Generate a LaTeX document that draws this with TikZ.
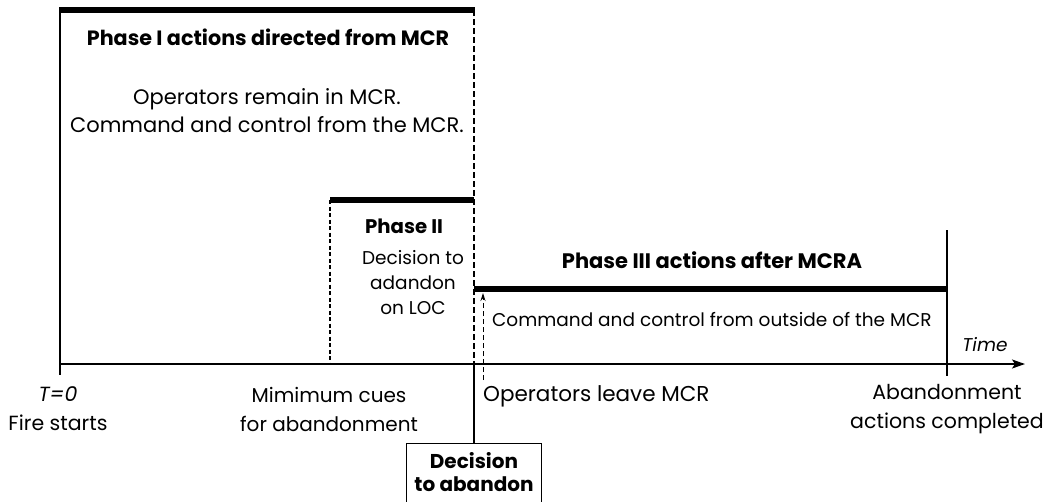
\documentclass[tikz,border=0pt]{standalone}
\usepackage{fontspec}
\setmainfont{Poppins}
\usetikzlibrary{arrows.meta}
\newcommand{\fs}[1]{\fontsize{#1}{29}\selectfont}
\begin{document}
\begin{tikzpicture}[x=1pt,y=-1pt,
  bar/.style={line width=6pt},
  axisline/.style={line width=1.8pt},
  dashline/.style={line width=1.4pt, dash pattern=on 5.5pt off 3.5pt},
  txt/.style={inner sep=0pt, align=center},
]
\useasboundingbox (0,0) rectangle (1044,501);

% time axis
\coordinate (t0) at (60,364);
\coordinate (tend) at (1025,364);
\draw[axisline,-{Stealth[length=13pt,width=9pt,inset=3pt]}] (t0) -- (tend);

% phase I: solid start line, thick bar, dashed end line
\coordinate (p1a) at (60,10);
\coordinate (p1b) at (474,10);
\coordinate (p1t) at (60,375);
\draw[axisline] (60,7) -- (p1t);
\draw[bar] ([xshift=-0.9pt]p1a) -- ([xshift=0.7pt]p1b);
\coordinate (dab) at (474,364);
\draw[dashline] (p1b) -- (dab);

% phase II
\coordinate (p2a) at (330,200);
\coordinate (p2b) at (474,200);
\coordinate (p2t) at (330,364);
\draw[bar] (p2a) -- (p2b);
\draw[dashline, dash pattern=on 4pt off 2.5pt] (p2a) -- (p2t);

% phase III
\coordinate (p3a) at (474,289);
\coordinate (p3b) at (947,289);
\draw[bar] (p3a) -- (p3b);
\coordinate (endtop) at (947,230);
\coordinate (endbot) at (947,376);
\draw[axisline] (endtop) -- (endbot);

% operators leave the MCR
\coordinate (leavebot) at (483,380);
\coordinate (leavetop) at (483,293);
\draw[dashline,line width=1pt,dash pattern=on 5pt off 3pt,-{Stealth[length=8pt,width=5pt]}] (leavebot) -- (leavetop);

% decision box
\node[draw, line width=1.3pt, minimum width=135pt, minimum height=62pt, anchor=north, inner sep=0pt] (box) at (474,443) {};
\node[txt, font=\bfseries\fontsize{20}{23}\selectfont] (boxtxt) at (474,472) {Decision\\to abandon};
\draw[axisline] (dab) -- (box.north);

% labels
\node[txt, font=\bfseries\fs{20.7}] (l1) at (268,37) {Phase I actions directed from MCR};
\node[txt, font=\fontsize{21}{28}\selectfont] (l1b) at (267,111) {Operators remain in MCR.\\Command and control from the MCR.};
\node[txt, font=\bfseries\fs{19.7}] (l2) at (404,226) {Phase II};
\node[txt, font=\fontsize{18.5}{25}\selectfont] (l2b) at (413,283) {Decision to\\adandon\\on LOC};
\node[txt, font=\bfseries\fs{21}] (l3) at (712,260) {Phase III actions after MCRA};
\node[txt, anchor=west, font=\fs{18.5}] (l3b) at (492,320) {Command and control from outside of the MCR};
\node[txt, font=\itshape\fs{18.5}] (time) at (985,345) {Time};
\node[txt, font=\fs{20.5}] (s0) at (58,409) {\textit{T=0}\\Fire starts};
\node[txt, font=\fs{20}] (s1) at (329,409) {Mimimum cues\\for abandonment};
\node[txt, anchor=west, font=\fs{21.5}] (s2) at (483,396) {Operators leave MCR};
\node[txt, font=\fs{20.5}] (s3) at (947,409) {Abandonment\\actions completed};
\end{tikzpicture}
\end{document}
